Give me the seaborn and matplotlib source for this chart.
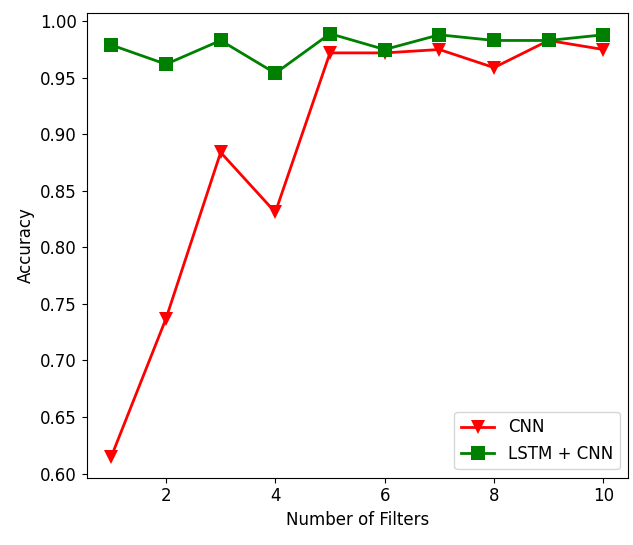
import matplotlib
matplotlib.use("Agg")
import matplotlib.pyplot as plt
from matplotlib import font_manager
import pandas as pd
import seaborn as sns

filters = [1, 2, 3, 4, 5, 6, 7, 8, 9, 10]
cnn_acc = [0.615, 0.737, 0.884, 0.831, 0.972, 0.972, 0.975, 0.959, 0.983, 0.975]
lstm_cnn_acc = [0.979, 0.962, 0.983, 0.954, 0.989, 0.975, 0.988, 0.983, 0.983, 0.988]
series_names = ["CNN", "LSTM + CNN"]

df = pd.concat([
    pd.DataFrame({"Filters": filters, "Accuracy": cnn_acc, "Model": series_names[0]}),
    pd.DataFrame({"Filters": filters, "Accuracy": lstm_cnn_acc, "Model": series_names[1]}),
])

available = {f.name for f in font_manager.fontManager.ttflist}
family = "DejaVu Sans Condensed" if "DejaVu Sans Condensed" in available else "DejaVu Sans"
print("font:", family)
plt.rcParams["font.family"] = [family, "DejaVu Sans"]
plt.rcParams["font.size"] = 12

fig = plt.figure(figsize=(6.33, 5.45), dpi=100)
ax = fig.add_axes([0.137, 0.1235, 0.855, 0.8535])

sns.lineplot(
    data=df, x="Filters", y="Accuracy", hue="Model", style="Model",
    hue_order=series_names, style_order=series_names,
    palette={"CNN": "red", "LSTM + CNN": "green"},
    markers={"CNN": "v", "LSTM + CNN": "s"}, dashes=False,
    linewidth=2, markersize=10, markeredgewidth=0, ax=ax,
)

ax.set_xticks([2, 4, 6, 8, 10])
ax.set_yticks([0.60, 0.65, 0.70, 0.75, 0.80, 0.85, 0.90, 0.95, 1.00])
ax.set_xlabel("Number of Filters")
ax.set_ylabel("Accuracy")
sns.move_legend(ax, "lower right", title=None, fontsize=12)

fig.savefig("out.png", dpi=100)
